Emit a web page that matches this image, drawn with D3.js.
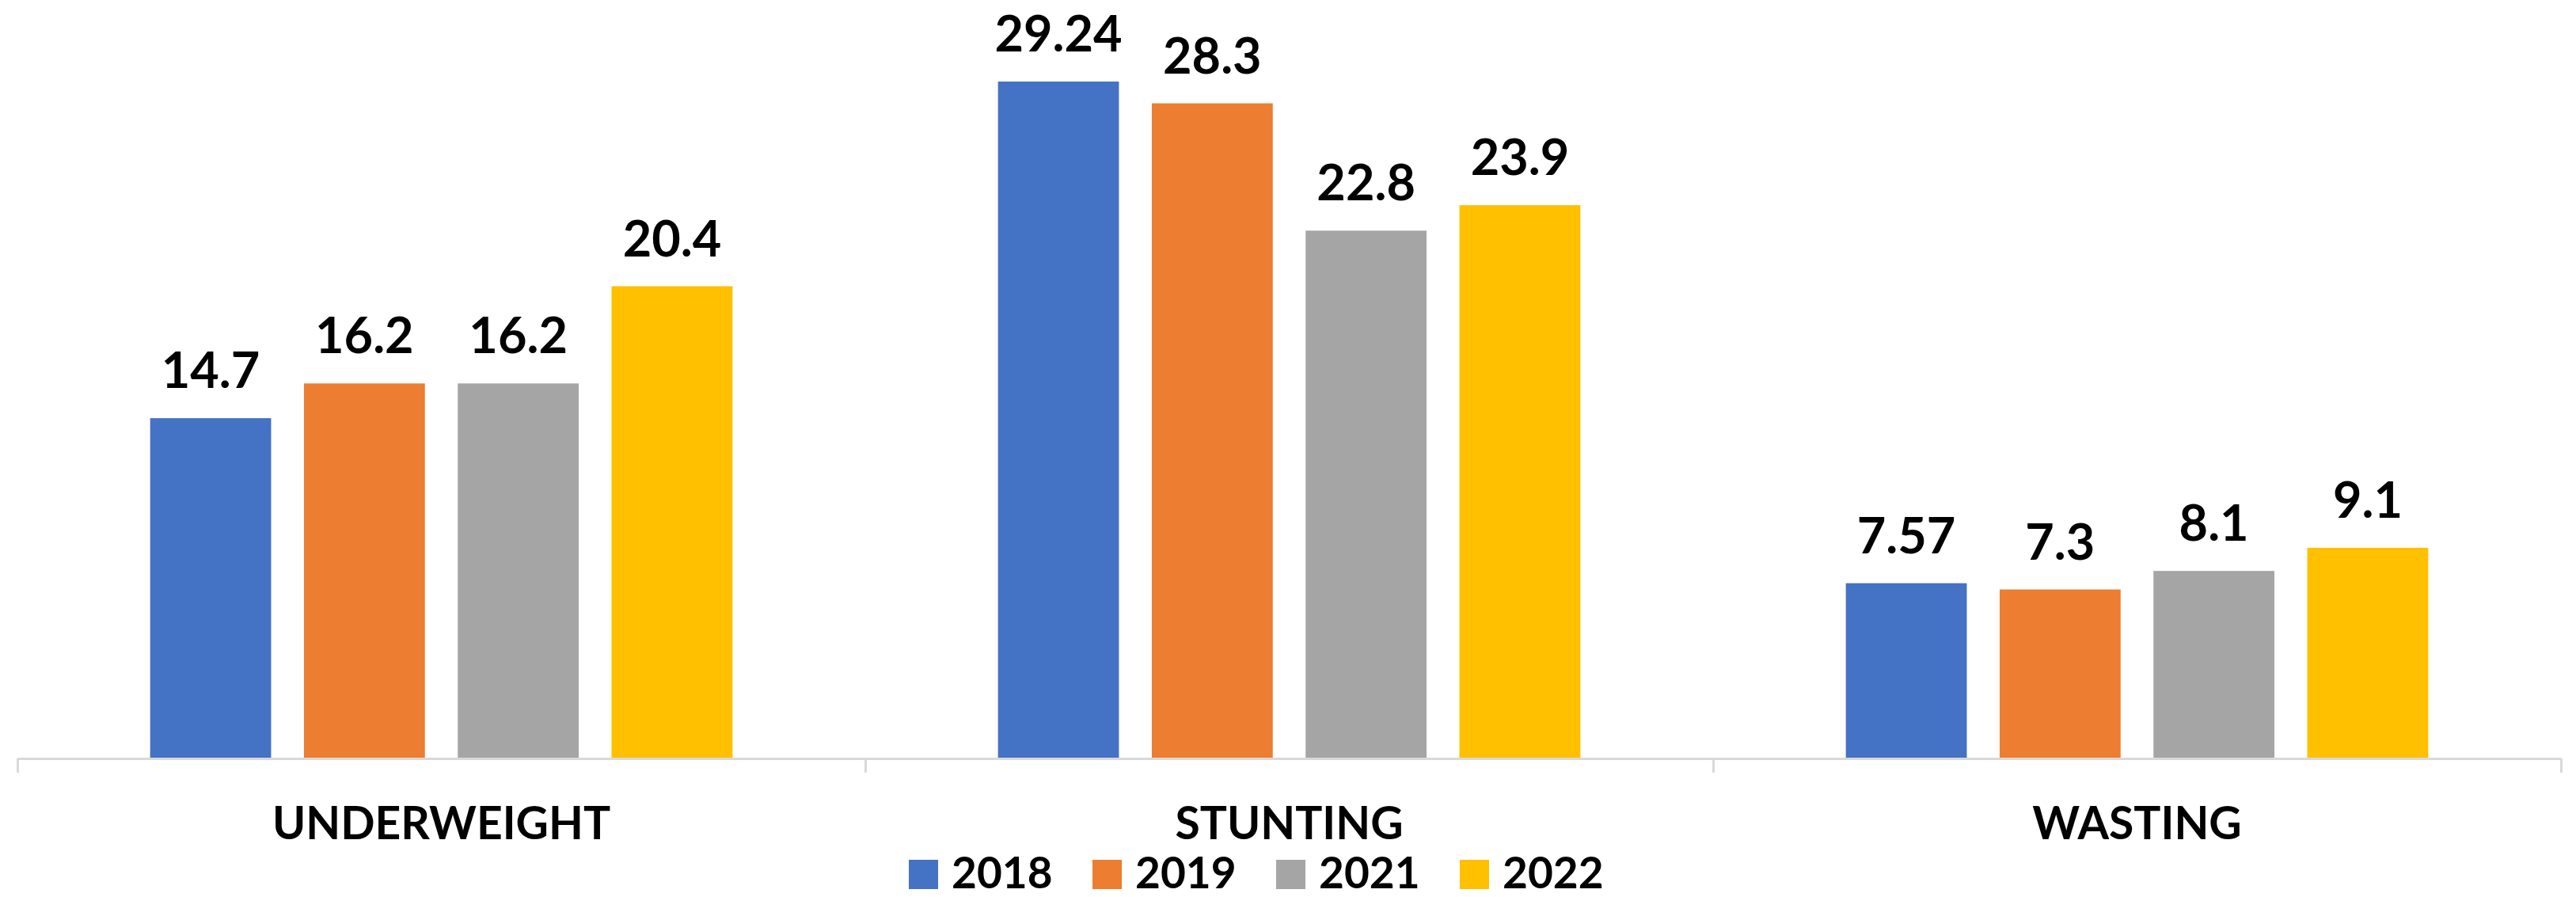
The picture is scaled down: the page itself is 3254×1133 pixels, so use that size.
<!DOCTYPE html>
<html>
<head>
<meta charset="utf-8">
<script src="https://cdn.jsdelivr.net/npm/d3@7/dist/d3.min.js"></script>
<style>
  html, body { margin: 0; padding: 0; background: #ffffff; }
  svg { display: block; font-family: Lato, "Open Sans", sans-serif; font-weight: 700; }
</style>
</head>
<body>
<svg id="chart" width="3254" height="1133"></svg>
<script>
// Indicator categories, survey years and the prevalence values (%) for each year
const categories = ["UNDERWEIGHT", "STUNTING", "WASTING"];
const years = ["2018", "2019", "2021", "2022"];
const values2018 = [14.7, 29.24, 7.57];
const values2019 = [16.2, 28.3, 7.3];
const values2021 = [16.2, 22.8, 8.1];
const values2022 = [20.4, 23.9, 9.1];
const seriesValues = [values2018, values2019, values2021, values2022];
const yDomain = [0, 30];

const colors = ["#4472C4", "#ED7D31", "#A5A5A5", "#FFC000"];

const svg = d3.select("#chart");

const plotLeft = 22, plotRight = 3235;
const baseY = 958;

// outer scale: one band per indicator
const x0 = d3.scaleBand()
  .domain(categories)
  .range([plotLeft, plotRight])
  .paddingInner(0)
  .paddingOuter(0);

// inner scale: one bar per year inside each indicator band
const x1 = d3.scaleBand()
  .domain(years)
  .range([0, x0.bandwidth()])
  .paddingInner(0.2136)
  .paddingOuter(0.863);

const y = d3.scaleLinear()
  .domain(yDomain)
  .range([baseY, baseY - 29.24 * yDomain[1]]);

const rows = [];
categories.forEach((c, ci) => {
  years.forEach((yr, si) => {
    rows.push({ category: c, year: yr, series: si, value: seriesValues[si][ci] });
  });
});

// bars
svg.append("g").attr("class", "bars")
  .selectAll("rect")
  .data(rows)
  .join("rect")
  .attr("x", d => x0(d.category) + x1(d.year))
  .attr("y", d => y(d.value))
  .attr("width", x1.bandwidth())
  .attr("height", d => y(0) - y(d.value))
  .attr("fill", d => colors[d.series]);

// value labels above bars
svg.append("g").attr("class", "labels")
  .selectAll("text")
  .data(rows)
  .join("text")
  .attr("x", d => x0(d.category) + x1(d.year) + x1.bandwidth() / 2)
  .attr("y", d => y(d.value) - 38)
  .attr("text-anchor", "middle")
  .attr("font-size", 63)
  .attr("fill", "#000")
  .text(d => String(d.value));

// category axis: baseline with dividers between indicator groups
const xEdges = d3.scaleLinear().domain([0, categories.length]).range([plotLeft, plotRight]);
const axis = svg.append("g")
  .attr("class", "x-axis")
  .attr("transform", `translate(0,${baseY})`)
  .call(d3.axisBottom(xEdges)
    .tickValues(d3.range(categories.length + 1))
    .tickSize(18)
    .tickSizeOuter(0)
    .tickFormat(""));
axis.select(".domain").attr("stroke", "#D9D9D9").attr("stroke-width", 3);
axis.selectAll(".tick line").attr("stroke", "#D9D9D9").attr("stroke-width", 3);

// category names
svg.append("g").attr("class", "cat-labels")
  .selectAll("text")
  .data(categories)
  .join("text")
  .attr("x", d => x0(d) + x0.bandwidth() / 2)
  .attr("y", 1060)
  .attr("text-anchor", "middle")
  .attr("font-size", 57)
  .attr("fill", "#000")
  .text(d => d);

// legend
const legendStart = 1148, legendStep = 232;
const legend = svg.append("g").attr("class", "legend")
  .selectAll("g")
  .data(years)
  .join("g")
  .attr("transform", (d, i) => `translate(${legendStart + i * legendStep},0)`);
legend.append("rect")
  .attr("x", 0)
  .attr("y", 1086)
  .attr("width", 37)
  .attr("height", 37)
  .attr("fill", (d, i) => colors[i]);
legend.append("text")
  .attr("x", 54)
  .attr("y", 1122)
  .attr("font-size", 55)
  .attr("fill", "#000")
  .text(d => d);
</script>
</body>
</html>
